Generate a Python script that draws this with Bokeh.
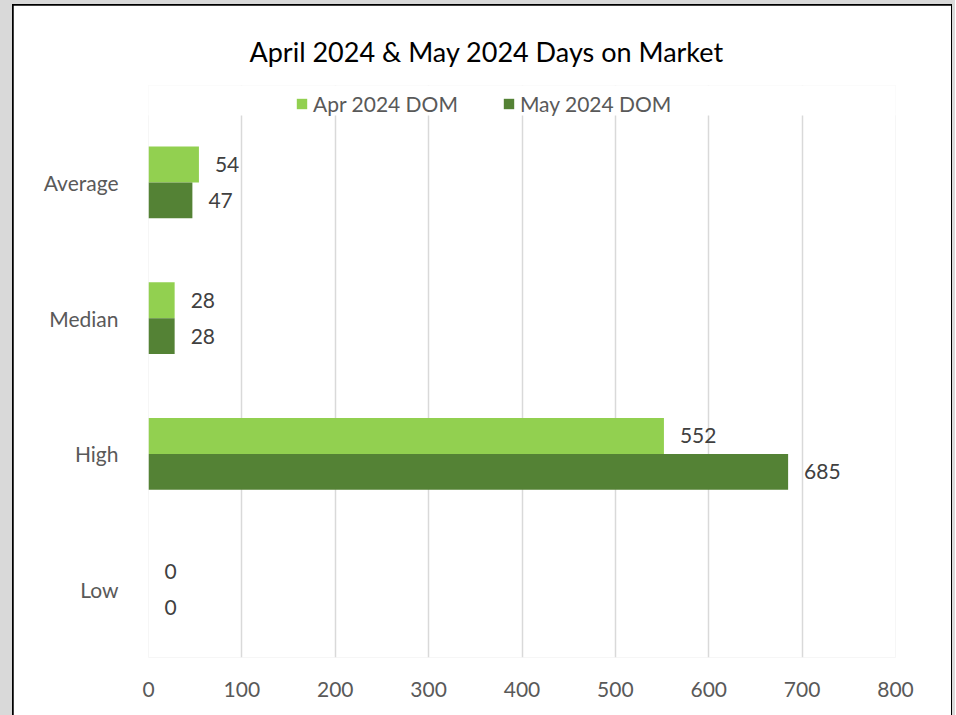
from bokeh.plotting import figure
from bokeh.layouts import column
from bokeh.models import (ColumnDataSource, Range1d, LabelSet, Legend, LegendItem,
                          FixedTicker, BoxAnnotation)
from bokeh.core.properties import value
from bokeh.transform import dodge
from bokeh.embed import file_html
from bokeh.resources import INLINE

categories = ["Low", "High", "Median", "Average"]
apr_dom = [0, 552, 28, 54]
may_dom = [0, 685, 28, 47]
x_ticks = [0, 100, 200, 300, 400, 500, 600, 700, 800]
series_names = ["Apr 2024 DOM", "May 2024 DOM"]
title_text = "April 2024 & May 2024 Days on Market"

APR_COLOR = "#92D050"
MAY_COLOR = "#548235"
FONT = "Lato"

pos = list(range(len(categories)))
src = ColumnDataSource(dict(cat=categories, pos=pos, apr=apr_dom, may=may_dom,
                            apr_txt=[str(v) for v in apr_dom],
                            may_txt=[str(v) for v in may_dom]))

W, H = 938, 710
y_top = len(categories) - 0.5 + 29 / 135.75   # room above the plot for the legend
p = figure(width=W, height=H, y_range=Range1d(-0.5, y_top),
           x_range=Range1d(0, 800), output_backend="svg", toolbar_location=None,
           min_border_left=135, min_border_right=56, min_border_top=80,
           min_border_bottom=58, border_fill_color="white", background_fill_color="white",
           styles={"outline": "2px solid black", "outline-offset": "-1px"})

# hide gridlines in the legend strip above the bars
p.add_layout(BoxAnnotation(bottom=len(categories) - 0.5, top=y_top + 1, left=-50, right=850,
                           fill_color="white", fill_alpha=1,
                           line_color="white", line_alpha=1, line_width=2, level="underlay"))

bh = 0.265
r_apr = p.hbar(y=dodge("pos", bh / 2), right="apr", left=0, height=bh,
               source=src, color=APR_COLOR, line_color=None)
r_may = p.hbar(y=dodge("pos", -bh / 2), right="may", left=0, height=bh,
               source=src, color=MAY_COLOR, line_color=None)

for col, txt, off in (("apr", "apr_txt", bh / 2), ("may", "may_txt", -bh / 2)):
    p.add_layout(LabelSet(x=col, y=dodge("pos", off), text=txt, source=src,
                          x_offset=16, text_baseline="middle", text_font=value(FONT),
                          text_font_size="21px", text_color="#404040"))

p.title.text = title_text
p.title.align = "left"
p.title.offset = 101
p.title.text_font = FONT
p.title.text_font_size = "27px"
p.title.text_font_style = "normal"
p.title.text_color = "#000000"
p.title.standoff = 35

legend = Legend(items=[LegendItem(label=series_names[0], renderers=[r_apr]),
                       LegendItem(label=series_names[1], renderers=[r_may])],
                orientation="horizontal", location=(147, 541),
                label_text_font=FONT, label_text_font_size="21px", label_text_color="#595959",
                glyph_width=13, glyph_height=13, label_height=20, label_standoff=5,
                spacing=44, padding=0, margin=0,
                border_line_color=None, background_fill_alpha=0)
p.add_layout(legend, "center")

p.xaxis.ticker = FixedTicker(ticks=x_ticks)
p.yaxis.ticker = FixedTicker(ticks=pos)
p.yaxis.major_label_overrides = {i: c for i, c in zip(pos, categories)}
for ax in (p.xaxis, p.yaxis):
    ax.axis_line_color = None
    ax.major_tick_line_color = None
    ax.minor_tick_line_color = None
    ax.major_tick_out = 0
    ax.major_tick_in = 0
    ax.minor_tick_out = 0
    ax.major_label_text_font = FONT
    ax.major_label_text_font_size = "21px"
    ax.major_label_text_color = "#595959"
p.yaxis.major_label_standoff = 30
p.xaxis.major_label_standoff = 24

p.ygrid.grid_line_color = None
p.xgrid.grid_line_color = "#D9D9D9"
p.xgrid.grid_line_width = 1.5
p.outline_line_color = None
p.outline_line_alpha = 0

page = column(p, styles={"background-color": "#D9D9D9", "padding": "5px 4px 0px 13px"})

open("out.html", "w").write(file_html(page, INLINE))
